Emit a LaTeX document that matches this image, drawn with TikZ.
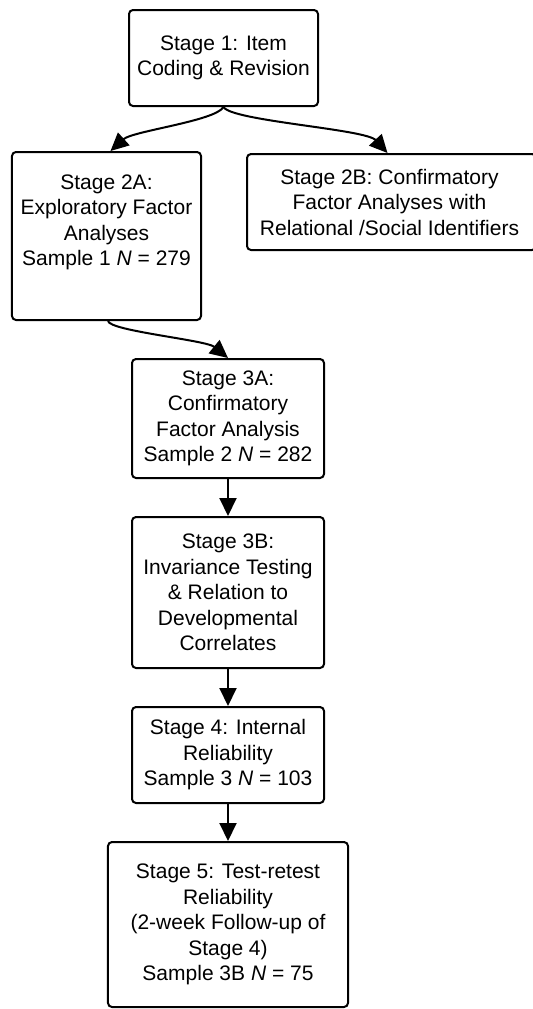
\documentclass[tikz,border=0pt]{standalone}
\usepackage{fontspec}
\setmainfont{Liberation Sans}
\usetikzlibrary{arrows.meta}
\tikzset{
  stagebox/.style={draw=black, line width=2bp, rounded corners=4bp, align=center,
    inner sep=0pt, font=\fontsize{21bp}{25.5bp}\selectfont, text=black},
  flow/.style={line width=2bp, draw=black, -{Triangle[length=18bp,width=17bp]}}
}
\begin{document}
\begin{tikzpicture}[x=1bp,y=-1bp]
\useasboundingbox (0,0) rectangle (533,1009);
\clip (0,0) rectangle (533,1009);
\node[stagebox, minimum width=189bp, minimum height=96bp] (s1) at (223.5,58) {Stage 1: Item\\Coding \& Revision};
\node[stagebox, minimum width=189bp, minimum height=168bp] (s2a) at (106.5,236) {Stage 2A:\\Exploratory Factor\\Analyses\\Sample 1 \textit{N} = 279\\[6bp]};
\node[stagebox, minimum width=289bp, minimum height=96bp] (s2b) at (391.5,202) {\hspace*{-4bp}Stage 2B: Confirmatory\\\hspace*{-4bp}Factor Analyses with\\\hspace*{-4bp}Relational /Social Identifiers};
\node[stagebox, minimum width=192bp, minimum height=119bp] (s3a) at (228,418.5) {Stage 3A:\\Confirmatory\\Factor Analysis\\Sample 2 \textit{N} = 282};
\node[stagebox, minimum width=192bp, minimum height=151bp] (s3b) at (228,592.5) {Stage 3B:\\Invariance Testing\\\& Relation to\\Developmental\\Correlates};
\node[stagebox, minimum width=192bp, minimum height=96bp] (s4) at (228,755) {Stage 4: Internal\\Reliability\\Sample 3 \textit{N} = 103};
\node[stagebox, minimum width=240bp, minimum height=165bp] (s5) at (228,924.5) {Stage 5: Test-retest\\Reliability\\(2-week Follow-up of\\Stage 4)\\Sample 3B \textit{N} = 75};
\draw[flow] (s1.south) .. controls +(-8,14) and +(22,-20) .. ([xshift=4bp]s2a.north);
\draw[flow] (s1.south) .. controls +(8,14) and +(-22,-24) .. ([xshift=-4bp]s2b.north);
\draw[flow] ([xshift=1.5bp]s2a.south) .. controls +(2,10) and +(-22,-18) .. (s3a.north);
\draw[flow] (s3a.south) -- (s3b.north);
\draw[flow] (s3b.south) -- (s4.north);
\draw[flow] (s4.south) -- (s5.north);
\end{tikzpicture}
\end{document}
